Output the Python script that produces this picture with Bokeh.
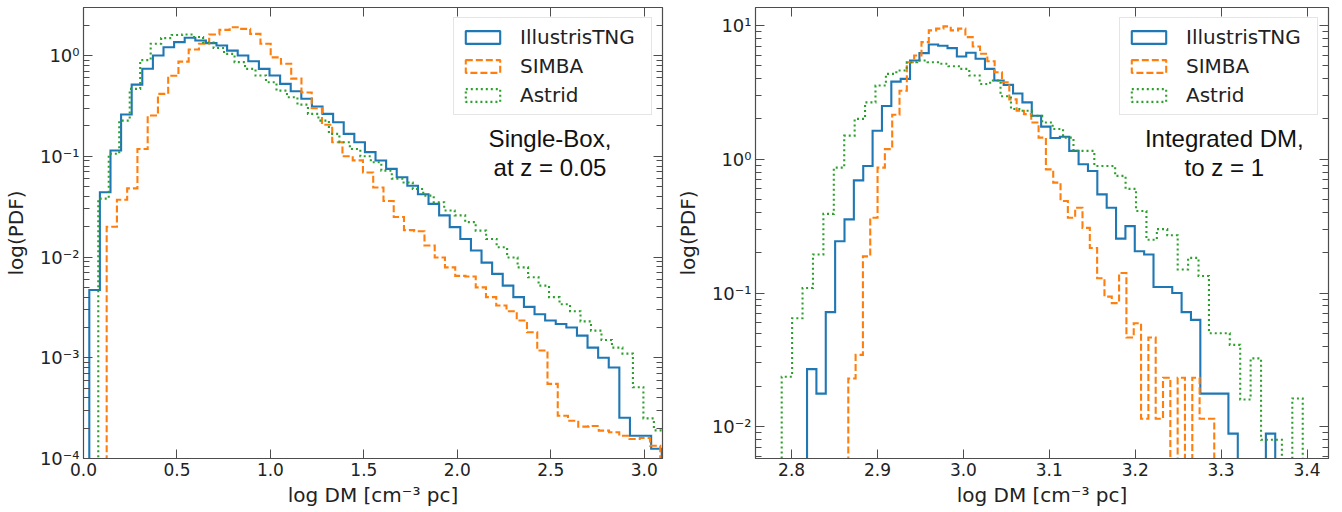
import numpy as np
from bokeh.plotting import figure
from bokeh.layouts import row
from bokeh.models import (FixedTicker, CustomJSTickFormatter, LogAxis, LinearAxis,
                          Legend, LegendItem, Label, Range1d)
from bokeh.embed import file_html
from bokeh.resources import INLINE

# ---------------- data ----------------
series_names = ["IllustrisTNG", "SIMBA", "Astrid"]

# Left panel (single box, z = 0.05): (first bin edge, last bin edge) and PDF per bin
left_tng_bins = (0.031, 3.094)
left_tng = [0.0047, 0.044, 0.114, 0.26, 0.515, 0.74, 1.0, 1.21, 1.36, 1.50,
            1.41, 1.33, 1.26, 1.12, 1.0, 0.878, 0.738, 0.633, 0.523, 0.442,
            0.372, 0.312, 0.264, 0.218, 0.167, 0.138, 0.11, 0.0907, 0.075, 0.062,
            0.051, 0.042, 0.0337, 0.0259, 0.0198, 0.0151, 0.0116, 0.0088, 0.0068, 0.0052,
            0.0040, 0.0032, 0.0027, 0.00234, 0.00216, 0.0020, 0.00166, 0.00126, 0.0010, 0.0008,
            0.000254, 0.000168, 0.000168, 0.000125]
left_simba_bins = (0.124, 3.086)
left_simba = [0.020, 0.037, 0.048, 0.118, 0.254, 0.417, 0.63, 0.87, 1.15, 1.31,
              1.62, 1.80, 1.91, 1.84, 1.64, 1.31, 0.96, 0.83, 0.59, 0.43,
              0.30, 0.206, 0.138, 0.100, 0.091, 0.069, 0.049, 0.036, 0.025, 0.0185,
              0.0180, 0.013, 0.0099, 0.0079, 0.0065, 0.0064, 0.0050, 0.0040, 0.0033, 0.0029,
              0.00234, 0.00179, 0.00118, 0.00055, 0.000266, 0.000237, 0.000207, 0.00021, 0.000189, 0.000182,
              0.000168, 0.000156, 0.00016, 0.000134]
left_astrid_bins = (0.079, 3.108)
left_astrid = [0.038, 0.106, 0.226, 0.467, 0.90, 1.31, 1.49, 1.60, 1.62, 1.53,
               1.35, 1.19, 1.04, 0.86, 0.738, 0.633, 0.543, 0.449, 0.386, 0.326,
               0.264, 0.226, 0.167, 0.138, 0.118, 0.100, 0.0872, 0.0721, 0.060, 0.055,
               0.0474, 0.0407, 0.035, 0.029, 0.0259, 0.0222, 0.0183, 0.0151, 0.0125, 0.0099,
               0.0079, 0.0063, 0.0052, 0.0040, 0.0034, 0.0029, 0.0023, 0.00186, 0.0015, 0.00126,
               0.00110, 0.00051, 0.00025, 0.00019]

# Right panel (integrated DM to z = 1)
right_tng_bins = (2.818, 3.363)
right_tng = [0.027, 0.0177, 0.072, 0.244, 0.355, 0.695, 0.89, 1.63, 2.5, 3.8,
             3.98, 5.46, 6.2, 7.2, 7.04, 6.76, 5.85, 6.24, 5.63, 4.73,
             3.87, 3.59, 3.1, 2.66, 2.11, 1.75, 1.44, 1.47, 1.154, 0.917,
             0.817, 0.546, 0.434, 0.255, 0.316, 0.205, 0.194, 0.111, 0.111, 0.1,
             0.072, 0.063, 0.0177, 0.0177, 0.0177, 0.0089, 0, 0, 0, 0.0089]
right_simba_bins = (2.866, 3.292)
right_simba = [0.023, 0.0345, 0.188, 0.365, 0.865, 1.19, 2.15, 3.25, 5.3, 5.96,
               7.5, 9.17, 9.45, 9.83, 9.17, 9.45, 8.17, 6.95, 6.13, 5.4,
               4.46, 3.76, 2.8, 2.3, 2.17, 1.88, 1.45, 0.84, 0.668, 0.487,
               0.365, 0.434, 0.307, 0.217, 0.129, 0.094, 0.084, 0.141, 0.0465, 0.0595,
               0.0115, 0.0465, 0.0115, 0.0233, 0, 0.0233, 0, 0.0233, 0.0115, 0.0115]
right_astrid_bins = (2.7885, 3.395)
right_astrid = [0.0237, 0.0648, 0.109, 0.194, 0.39, 0.865, 1.5, 2.0, 2.66, 3.55,
                4.34, 4.6, 5.3, 5.46, 5.3, 5.16, 4.95, 4.73, 4.22, 3.65,
                3.87, 2.95, 2.37, 2.3, 2.11, 1.88, 1.68, 1.45, 1.154, 1.154,
                0.89, 0.89, 0.75, 0.6, 0.41, 0.25, 0.3, 0.27, 0.15, 0.183,
                0.134, 0.05, 0.05, 0.041, 0.016, 0.0325, 0.008, 0.008, 0, 0.0163]

left_xticks = [0.0, 0.5, 1.0, 1.5, 2.0, 2.5, 3.0]
left_yticks = [1e-4, 1e-3, 1e-2, 1e-1, 1e0]
right_xticks = [2.8, 2.9, 3.0, 3.1, 3.2, 3.3, 3.4]
right_yticks = [1e-2, 1e-1, 1e0, 1e1]

left_note = ["Single-Box,", "at z = 0.05"]
right_note = ["Integrated DM,", "to z = 1"]

x_label = "log DM [cm\u207b\u00b3 pc]"
y_label = "log(PDF)"

# ---------------- style ----------------
COLORS = ["#1f77b4", "#ff7f0e", "#2ca02c"]
DASHES = ["solid", "7 3", "2 3"]
AXC = "#4d4d4d"
TXT = "#222222"
FLOOR = 1e-9

X_FMT = CustomJSTickFormatter(code="return tick.toFixed(1);")
Y_FMT = CustomJSTickFormatter(code="""
const sup = {"-": "\\u207b", "0": "\\u2070", "1": "\\u00b9", "2": "\\u00b2", "3": "\\u00b3",
             "4": "\\u2074", "5": "\\u2075", "6": "\\u2076", "7": "\\u2077", "8": "\\u2078", "9": "\\u2079"};
const e = Math.round(Math.log10(tick));
return "10" + String(e).split("").map(c => sup[c]).join("");
""")
BLANK = CustomJSTickFormatter(code="return '';")


def step_xy(bins, vals):
    edges = np.linspace(bins[0], bins[1], len(vals) + 1)
    xs, ys = [edges[0]], [FLOOR]
    for i, v in enumerate(vals):
        vv = v if v > 0 else FLOOR
        xs += [edges[i], edges[i + 1]]
        ys += [vv, vv]
    xs.append(edges[-1])
    ys.append(FLOOR)
    return xs, ys


def minor_log(lo, hi):
    out = []
    for e in range(int(np.floor(np.log10(lo))), int(np.ceil(np.log10(hi))) + 1):
        for m in range(2, 10):
            v = m * 10.0 ** e
            if lo < v < hi:
                out.append(v)
    return out


def style_axis(ax, ticks, minor, fmt, labelled, size="17px"):
    ax.ticker = FixedTicker(ticks=ticks, minor_ticks=minor)
    ax.formatter = fmt if labelled else BLANK
    ax.major_tick_in = 9
    ax.major_tick_out = 0
    ax.minor_tick_in = 6
    ax.minor_tick_out = 0
    ax.axis_line_color = AXC
    ax.major_tick_line_color = AXC
    ax.minor_tick_line_color = AXC
    ax.axis_line_width = 1.2
    if labelled:
        ax.major_label_text_font = "DejaVu Sans"
        ax.major_label_text_font_size = size
        ax.major_label_text_color = TXT
        ax.major_label_standoff = 4
        ax.axis_label_text_font = "DejaVu Sans"
        ax.axis_label_text_font_size = "20px"
        ax.axis_label_text_font_style = "normal"
        ax.axis_label_text_color = TXT
    else:
        ax.major_label_text_font_size = "0px"
        ax.major_label_standoff = 0


def panel(series, bins, xr, yr, xticks, yticks, note, note_xy, width, bl, br):
    p = figure(width=width, height=510, x_range=Range1d(*xr), y_range=Range1d(*yr),
               y_axis_type="log", toolbar_location=None, output_backend="svg",
               min_border_left=bl, min_border_right=br, min_border_top=7, min_border_bottom=52)
    p.xgrid.visible = False
    p.ygrid.visible = False
    p.outline_line_color = AXC
    p.background_fill_color = "white"
    p.border_fill_color = "white"

    ymin = minor_log(yr[0], yr[1])
    style_axis(p.xaxis[0], xticks, [], X_FMT, True)
    style_axis(p.yaxis[0], yticks, ymin, Y_FMT, True, size="18px")
    p.xaxis[0].axis_label = x_label
    p.xaxis[0].axis_label_standoff = 4
    p.yaxis[0].axis_label = y_label
    p.yaxis[0].axis_label_standoff = 9

    top = LinearAxis()
    style_axis(top, xticks, [], X_FMT, False)
    p.add_layout(top, "above")
    right = LogAxis()
    style_axis(right, yticks, ymin, Y_FMT, False)
    p.add_layout(right, "right")

    for vals, b, c, d in zip(series, bins, COLORS, DASHES):
        xs, ys = step_xy(b, vals)
        p.line(xs, ys, line_color=c, line_width=2.1, line_dash=d, line_join="miter")

    # legend swatches: outline boxes sitting at the histogram floor (outside the view)
    items = []
    for name, b, c, d in zip(series_names, bins, COLORS, DASHES):
        r = p.quad(left=[b[0]], right=[b[1]], top=[FLOOR], bottom=[FLOOR], fill_alpha=0,
                   line_color=c, line_width=2.1, line_dash=d)
        items.append(LegendItem(label=name, renderers=[r]))
    leg = Legend(items=items, location="top_right", margin=10, padding=7, spacing=5,
                 glyph_width=43, glyph_height=16, label_standoff=16, label_width=124,
                 label_text_font="DejaVu Sans", label_text_font_size="20px",
                 label_text_color=TXT, border_line_color="#cccccc",
                 background_fill_alpha=0.85)
    p.add_layout(leg)

    for txt, (x, y) in zip(note, note_xy):
        p.add_layout(Label(x=x, y=y, text=txt, text_align="center", text_baseline="middle",
                           text_font="Liberation Sans", text_font_size="24px", text_color="#111111"))
    return p


p1 = panel([left_tng, left_simba, left_astrid],
           [left_tng_bins, left_simba_bins, left_astrid_bins],
           (0.0, 3.098), (1e-4, 3.0), left_xticks, left_yticks,
           left_note, [(2.496, 0.15), (2.496, 0.077)], 672, 82, 10)
p2 = panel([right_tng, right_simba, right_astrid],
           [right_tng_bins, right_simba_bins, right_astrid_bins],
           (2.758, 3.425), (0.0058, 13.6), right_xticks, right_yticks,
           right_note, [(3.3037, 1.42), (3.3037, 0.86)], 664, 75, 8)

layout = row(p1, p2, spacing=0)
open("out.html", "w").write(file_html(layout, INLINE))
